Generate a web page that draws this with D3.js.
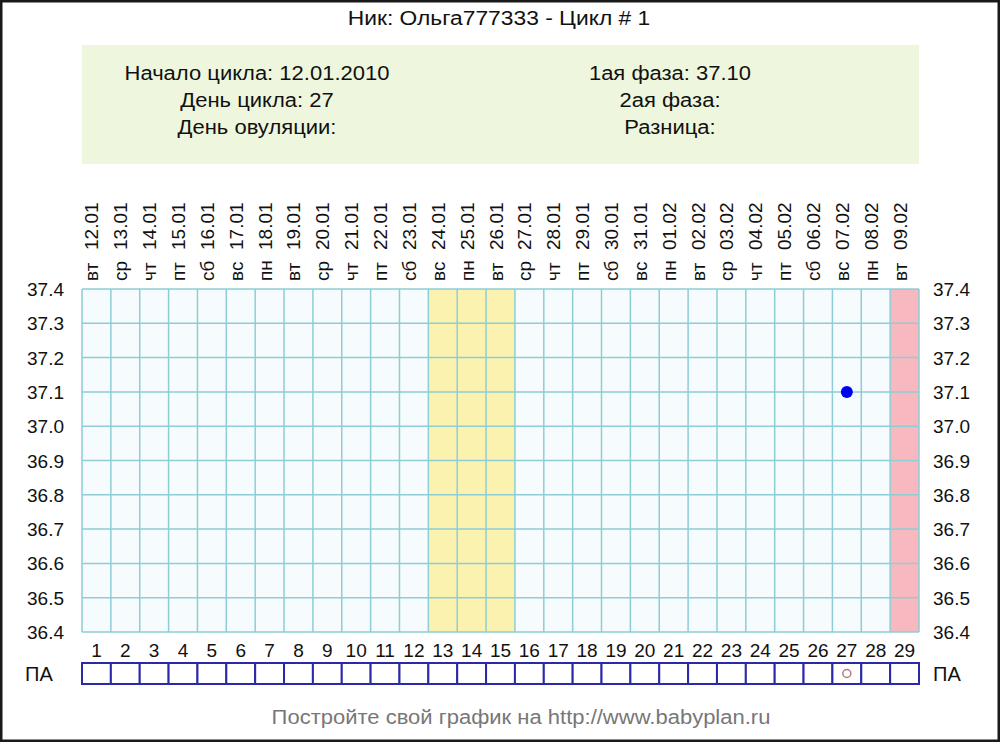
<!DOCTYPE html>
<html><head><meta charset="utf-8">
<script src="https://cdn.jsdelivr.net/npm/d3@7"></script>
<style>
html,body{margin:0;padding:0;background:#fff;}
svg{display:block;font-family:"Liberation Sans",Arial,sans-serif;}
</style></head>
<body>
<script>
// ---- data ----
const title = "Ник: Ольга777333 - Цикл # 1";
const infoLeft = ["Начало цикла: 12.01.2010", "День цикла: 27", "День овуляции:"];
const infoRight = ["1ая фаза: 37.10", "2ая фаза:", "Разница:"];
const days = [1,2,3,4,5,6,7,8,9,10,11,12,13,14,15,16,17,18,19,20,21,22,23,24,25,26,27,28,29];
const dates = ["12.01","13.01","14.01","15.01","16.01","17.01","18.01","19.01","20.01","21.01","22.01","23.01","24.01","25.01","26.01","27.01","28.01","29.01","30.01","31.01","01.02","02.02","03.02","04.02","05.02","06.02","07.02","08.02","09.02"];
const weekdays = ["вт","ср","чт","пт","сб","вс","пн","вт","ср","чт","пт","сб","вс","пн","вт","ср","чт","пт","сб","вс","пн","вт","ср","чт","пт","сб","вс","пн","вт"];
const yTicks = [36.4,36.5,36.6,36.7,36.8,36.9,37.0,37.1,37.2,37.3,37.4];
const tempDays = [27];
const tempValues = [37.1];
const yellowDays = [13,14,15];
const pinkDays = [29];
const paDays = [27];
const footer = "Постройте свой график на http://www.babyplan.ru";

// ---- layout ----
const W = 1000, H = 742;
const svg = d3.select("body").append("svg").attr("width", W).attr("height", H);

const x = d3.scaleBand().domain(days).range([82, 919]);
const y = d3.scaleLinear().domain([36.4, 37.4]).range([632, 289]);
const bw = x.bandwidth();

// stretch text horizontally to the reference's wide rendering
function widen(sel, factor) {
  sel.each(function() {
    const w = this.getComputedTextLength();
    d3.select(this).attr("textLength", w * factor).attr("lengthAdjust", "spacingAndGlyphs");
  });
}

// frame
svg.append("rect").attr("x",1).attr("y",1).attr("width",W-2).attr("height",H-2)
  .attr("fill","#fff").attr("stroke","#1a1a1a").attr("stroke-width",3);

// title
svg.append("text").attr("x",499).attr("y",25).attr("text-anchor","middle")
  .attr("font-size",20).attr("fill","#111").text(title).call(widen, 1.14);

// info box
svg.append("rect").attr("x",82).attr("y",45).attr("width",837).attr("height",119).attr("fill","#eef7dd");
svg.selectAll("text.il").data(infoLeft).join("text").attr("class","il")
  .attr("x",257).attr("y",(d,i)=>80+i*27).attr("text-anchor","middle")
  .attr("font-size",20).attr("fill","#111").text(d=>d).call(widen, 1.1);
svg.selectAll("text.ir").data(infoRight).join("text").attr("class","ir")
  .attr("x",670).attr("y",(d,i)=>80+i*27).attr("text-anchor","middle")
  .attr("font-size",20).attr("fill","#111").text(d=>d).call(widen, 1.1);

// date & weekday labels (rotated)
const lab = svg.append("g");
days.forEach((d,i)=>{
  const cx = x(d) + bw/2 + 2;
  lab.append("text").attr("transform",`translate(${cx},281) rotate(-90)`)
    .attr("font-size",19).attr("fill","#111").text(weekdays[i]);
  lab.append("text").attr("transform",`translate(${cx},250) rotate(-90)`)
    .attr("font-size",19).attr("fill","#111").text(dates[i]);
});

// plot background
svg.append("rect").attr("x",x.range()[0]).attr("y",y(37.4))
  .attr("width",x.range()[1]-x.range()[0]).attr("height",y(36.4)-y(37.4)).attr("fill","#f6fcfd");
svg.selectAll("rect.yel").data(yellowDays).join("rect").attr("class","yel")
  .attr("x",d=>x(d)).attr("y",y(37.4)).attr("width",bw).attr("height",y(36.4)-y(37.4)).attr("fill","#fbf2b0");
svg.selectAll("rect.pink").data(pinkDays).join("rect").attr("class","pink")
  .attr("x",d=>x(d)).attr("y",y(37.4)).attr("width",bw).attr("height",y(36.4)-y(37.4)).attr("fill","#f8b8c0");

// grid
const grid = svg.append("g").attr("stroke","#8ecdd5").attr("stroke-width",1.5);
grid.selectAll("line.h").data(yTicks).join("line").attr("class","h")
  .attr("x1",x.range()[0]).attr("x2",x.range()[1]).attr("y1",d=>y(d)).attr("y2",d=>y(d));
grid.selectAll("line.v").data(days.concat(["end"])).join("line").attr("class","v")
  .attr("x1",d=>d==="end"?x.range()[1]:x(d)).attr("x2",d=>d==="end"?x.range()[1]:x(d))
  .attr("y1",y(37.4)).attr("y2",y(36.4));

// y labels
svg.selectAll("text.yl").data(yTicks).join("text").attr("class","yl")
  .attr("x",64).attr("y",d=>y(d)+7).attr("text-anchor","end")
  .attr("font-size",19).attr("fill","#111").text(d=>d.toFixed(1));
svg.selectAll("text.yr").data(yTicks).join("text").attr("class","yr")
  .attr("x",933).attr("y",d=>y(d)+7).attr("text-anchor","start")
  .attr("font-size",19).attr("fill","#111").text(d=>d.toFixed(1));

// temperature points
svg.selectAll("circle.t").data(tempDays).join("circle").attr("class","t")
  .attr("cx",d=>x(d)+bw/2).attr("cy",(d,i)=>y(tempValues[i])).attr("r",6).attr("fill","#0000f0");

// day numbers
svg.selectAll("text.dn").data(days).join("text").attr("class","dn")
  .attr("x",d=>x(d)+bw/2).attr("y",657).attr("text-anchor","middle")
  .attr("font-size",19).attr("fill","#111").text(d=>d);

// PA row
svg.selectAll("rect.pa").data(days).join("rect").attr("class","pa")
  .attr("x",d=>x(d)).attr("y",663).attr("width",bw).attr("height",21)
  .attr("fill","#fff").attr("stroke","#2a2aa8").attr("stroke-width",2);
svg.selectAll("circle.pa").data(paDays).join("circle").attr("class","pa")
  .attr("cx",d=>x(d)+bw/2).attr("cy",673.5).attr("r",4)
  .attr("fill","none").attr("stroke","#b07a80").attr("stroke-width",1.5);
svg.append("text").attr("x",25).attr("y",681).attr("font-size",20).attr("fill","#111").text("ПА");
svg.append("text").attr("x",933).attr("y",681).attr("font-size",20).attr("fill","#111").text("ПА");

// footer
svg.append("text").attr("x",521).attr("y",724).attr("text-anchor","middle")
  .attr("font-size",20).attr("fill","#777").text(footer).call(widen, 1.1);
</script>
</body></html>
